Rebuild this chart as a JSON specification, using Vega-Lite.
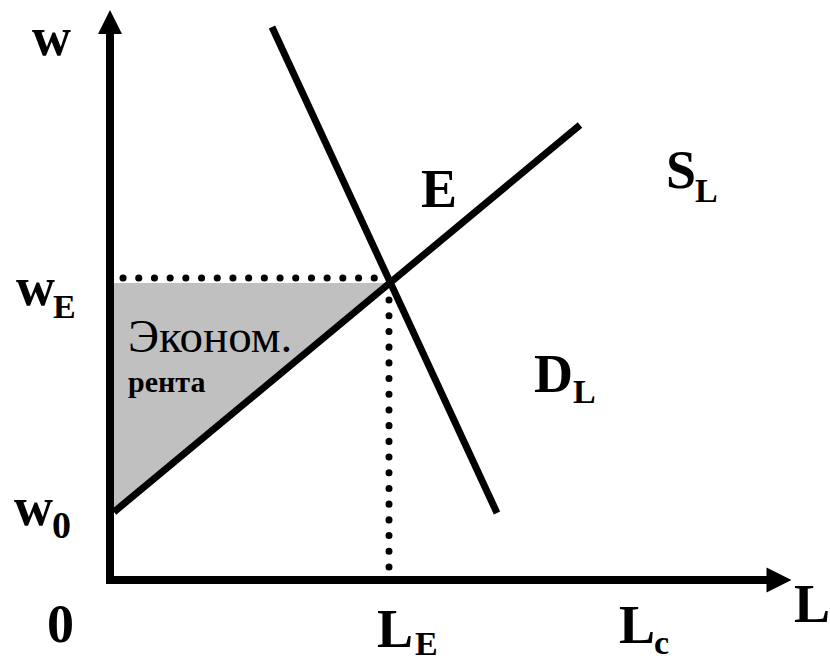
{
  "$schema": "https://vega.github.io/schema/vega-lite/v6.json",
  "width": 830,
  "height": 662,
  "padding": 0,
  "autosize": {"type": "none"},
  "background": "white",
  "config": {"view": {"stroke": null}},
  "datasets": {
    "rent": [
      {"L": 0, "w": 65, "wE": 297},
      {"L": 280, "w": 297, "wE": 297}
    ],
    "guides": [
      {"x": 13, "y": 302, "x2": 277, "y2": 302},
      {"x": 279, "y": 13, "x2": 279, "y2": 296}
    ],
    "curves": [
      {"curve": "S", "x": 4, "y": 68, "x2": 470, "y2": 455},
      {"curve": "D", "x": 162, "y": 553, "x2": 387, "y2": 67}
    ],
    "axes": [
      {"axis": "w", "x": 0, "y": -4, "x2": 0, "y2": 548},
      {"axis": "L", "x": -4, "y": 0, "x2": 660, "y2": 0}
    ],
    "arrowUp": [{"x": 0, "y": 558}],
    "arrowRight": [{"x": 669, "y": 0}],
    "labels": [
      {"label": "w", "x": -78, "y": 525},
      {"label": "w", "x": -94, "y": 275},
      {"label": "w", "x": -96, "y": 55},
      {"label": "0", "x": -63, "y": -62},
      {"label": "L", "x": 267, "y": -67},
      {"label": "L", "x": 509, "y": -63},
      {"label": "L", "x": 684, "y": -42},
      {"label": "E", "x": 311, "y": 373},
      {"label": "S", "x": 556, "y": 392},
      {"label": "D", "x": 424, "y": 188}
    ],
    "subs": [
      {"label": "E", "x": -57, "y": 262},
      {"label": "E", "x": 305, "y": -75},
      {"label": "c", "x": 544, "y": -74},
      {"label": "L", "x": 585, "y": 378},
      {"label": "L", "x": 463, "y": 177}
    ],
    "digitSub": [{"label": "0", "x": -58, "y": 42}],
    "rentTitle": [{"label": "Эконом.", "x": 18, "y": 228}],
    "rentSub": [{"label": "рента", "x": 18, "y": 188}]
  },
  "encoding": {
    "x": {"field": "x", "type": "quantitative", "axis": null, "scale": {"domain": [-110, 720], "nice": false, "zero": false}},
    "y": {"field": "y", "type": "quantitative", "axis": null, "scale": {"domain": [-82, 580], "nice": false, "zero": false}}
  },
  "layer": [
    {
      "data": {"name": "rent"},
      "mark": {"type": "area", "color": "#c0c0c0", "opacity": 1},
      "encoding": {
        "x": {"field": "L", "type": "quantitative"},
        "y": {"field": "w", "type": "quantitative"},
        "y2": {"field": "wE"}
      }
    },
    {
      "data": {"name": "guides"},
      "mark": {"type": "rule", "color": "black", "strokeWidth": 7, "strokeCap": "round", "strokeDash": [0.1, 15.6]},
      "encoding": {"x2": {"field": "x2"}, "y2": {"field": "y2"}}
    },
    {
      "data": {"name": "curves"},
      "mark": {"type": "rule", "color": "black", "strokeWidth": 7, "strokeCap": "butt"},
      "encoding": {"x2": {"field": "x2"}, "y2": {"field": "y2"}}
    },
    {
      "data": {"name": "axes"},
      "mark": {"type": "rule", "color": "black", "strokeWidth": 8, "strokeCap": "butt"},
      "encoding": {"x2": {"field": "x2"}, "y2": {"field": "y2"}}
    },
    {
      "data": {"name": "arrowUp"},
      "mark": {"type": "point", "shape": "M0,-1L1,1L-1,1Z", "size": 576, "filled": true, "color": "black", "opacity": 1, "strokeWidth": 0}
    },
    {
      "data": {"name": "arrowRight"},
      "mark": {"type": "point", "shape": "M1,0L-1,-1L-1,1Z", "size": 625, "filled": true, "color": "black", "opacity": 1, "strokeWidth": 0}
    },
    {
      "data": {"name": "labels"},
      "mark": {"type": "text", "font": "Liberation Serif", "fontWeight": "bold", "fontSize": 54, "align": "left", "baseline": "alphabetic", "color": "black"},
      "encoding": {"text": {"field": "label"}}
    },
    {
      "data": {"name": "subs"},
      "mark": {"type": "text", "font": "Liberation Serif", "fontWeight": "bold", "fontSize": 34, "align": "left", "baseline": "alphabetic", "color": "black"},
      "encoding": {"text": {"field": "label"}}
    },
    {
      "data": {"name": "digitSub"},
      "mark": {"type": "text", "font": "Liberation Serif", "fontWeight": "bold", "fontSize": 38, "align": "left", "baseline": "alphabetic", "color": "black"},
      "encoding": {"text": {"field": "label"}}
    },
    {
      "data": {"name": "rentTitle"},
      "mark": {"type": "text", "font": "Liberation Serif", "fontWeight": "normal", "fontSize": 47, "align": "left", "baseline": "alphabetic", "color": "black"},
      "encoding": {"text": {"field": "label"}}
    },
    {
      "data": {"name": "rentSub"},
      "mark": {"type": "text", "font": "Liberation Serif", "fontWeight": "bold", "fontSize": 30, "align": "left", "baseline": "alphabetic", "color": "black"},
      "encoding": {"text": {"field": "label"}}
    }
  ]
}
